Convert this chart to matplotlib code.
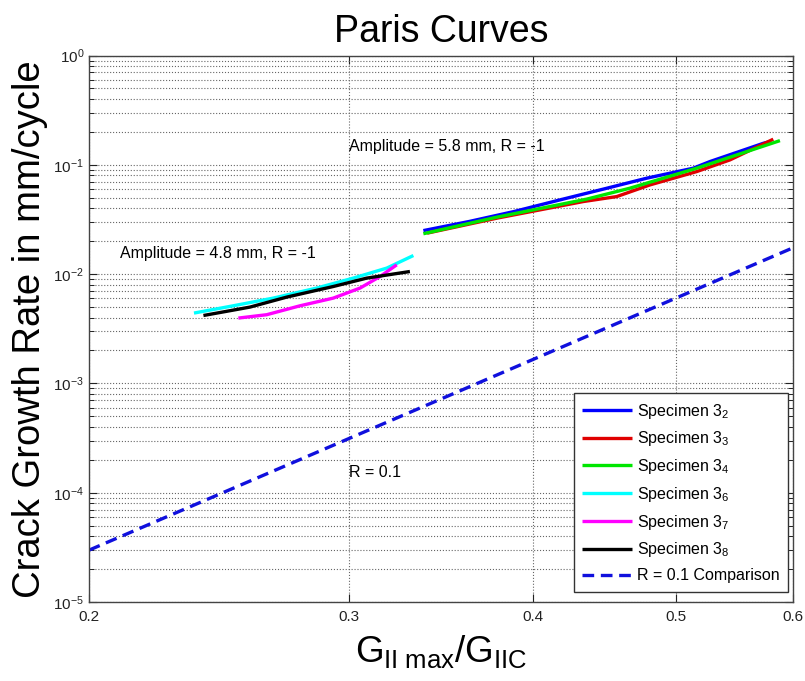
import matplotlib
matplotlib.use('Agg')
import matplotlib.pyplot as plt
from matplotlib.ticker import FixedLocator, FixedFormatter, NullLocator, LogLocator, LogFormatterSciNotation

plt.rcParams['font.family'] = ['Liberation Sans', 'DejaVu Sans']
plt.rcParams['mathtext.fontset'] = 'custom'
plt.rcParams['mathtext.rm'] = 'Liberation Sans'
plt.rcParams['mathtext.it'] = 'Liberation Sans:italic'
plt.rcParams['mathtext.bf'] = 'Liberation Sans:bold'

# ---- data ----
x_s2 = [0.337, 0.362, 0.388, 0.419, 0.446, 0.4775, 0.5135, 0.527, 0.573, 0.579]
y_s2 = [0.0250, 0.0303, 0.0373, 0.0485, 0.0598, 0.0754, 0.0931, 0.107, 0.1575, 0.163]

x_s3 = [0.339, 0.378, 0.4325, 0.4557, 0.480, 0.5163, 0.5438, 0.5818]
y_s3 = [0.0237, 0.0325, 0.0461, 0.0512, 0.0655, 0.0867, 0.1109, 0.1714]

x_s4 = [0.337, 0.378, 0.4348, 0.4652, 0.5163, 0.5879]
y_s4 = [0.0234, 0.0332, 0.0485, 0.0611, 0.0931, 0.1664]

x_s6 = [0.2356, 0.2505, 0.2666, 0.2853, 0.3021, 0.3183, 0.3318]
y_s6 = [0.0044, 0.00513, 0.00603, 0.00745, 0.00919, 0.01135, 0.01479]

x_s7 = [0.2525, 0.2639, 0.2780, 0.2928, 0.3053, 0.3150, 0.3233]
y_s7 = [0.00396, 0.00425, 0.00513, 0.00603, 0.00745, 0.00951, 0.01216]

x_s8 = [0.2391, 0.2571, 0.2723, 0.2928, 0.3085, 0.3300]
y_s8 = [0.00418, 0.00499, 0.00616, 0.0077, 0.00919, 0.01056]

x_cmp = [0.2, 0.6]
y_cmp = [2.98e-5, 0.0174]

labels = [r'Specimen 3$_{2}$', r'Specimen 3$_{3}$', r'Specimen 3$_{4}$',
          r'Specimen 3$_{6}$', r'Specimen 3$_{7}$', r'Specimen 3$_{8}$',
          'R = 0.1 Comparison']
x_ticks = [0.2, 0.3, 0.4, 0.5, 0.6]
x_ticklabels = ['0.2', '0.3', '0.4', '0.5', '0.6']

# ---- figure ----
fig = plt.figure(figsize=(8.05, 6.81), dpi=100)
ax = fig.add_axes([89/805, 79/681, 704/805, 546.5/681])
ax.set_xscale('log')
ax.set_yscale('log')

lw = 2.4
series = [(x_s2, y_s2, '#0000ff'), (x_s3, y_s3, '#e00000'), (x_s4, y_s4, '#00e600'),
          (x_s6, y_s6, '#00ffff'), (x_s7, y_s7, '#ff00ff'), (x_s8, y_s8, '#000000')]
for (xs, ys, c), lab in zip(series, labels[:6]):
    ax.plot(xs, ys, color=c, lw=lw, label=lab, solid_capstyle='butt')
ax.plot(x_cmp, y_cmp, color='#1010dd', lw=lw, ls=(0, (3.5, 2.0)), label=labels[6])

ax.set_xlim(0.2, 0.6)
ax.set_ylim(1e-5, 1)

ax.xaxis.set_major_locator(FixedLocator(x_ticks))
ax.xaxis.set_major_formatter(FixedFormatter(x_ticklabels))
ax.xaxis.set_minor_locator(NullLocator())
ax.yaxis.set_major_locator(LogLocator(base=10, numticks=10))
ax.yaxis.set_minor_locator(LogLocator(base=10, subs=range(2, 10), numticks=20))
ax.yaxis.set_major_formatter(LogFormatterSciNotation())

ax.tick_params(which='both', direction='in', top=True, right=True, labelsize=11, colors='#222222')
ax.tick_params(which='major', length=6, width=0.8)
ax.tick_params(which='minor', length=3.5, width=0.7)
ax.tick_params(axis='x', pad=6)

ax.grid(True, which='major', axis='both', ls=':', color='#666666', lw=0.8)
ax.grid(True, which='minor', axis='y', ls=':', color='#666666', lw=0.8)
ax.set_axisbelow(True)
for s in ax.spines.values():
    s.set_color('#444444')
    s.set_linewidth(1.0)

ax.set_title('Paris Curves', fontsize=27, pad=10)
ax.set_xlabel(r'$\mathregular{G_{II\ max}/G_{IIC}}$', fontsize=26.5, labelpad=6)
ax.set_ylabel('Crack Growth Rate in mm/cycle', fontsize=27.5, labelpad=4)

ax.text(0.3, 0.146, 'Amplitude = 5.8 mm, R = -1', fontsize=11.5, va='center', ha='left')
ax.text(0.2099, 0.01533, 'Amplitude = 4.8 mm, R = -1', fontsize=11.5, va='center', ha='left')
ax.text(0.3, 1.53e-4, 'R = 0.1', fontsize=11.5, va='center', ha='left')

leg = ax.legend(loc='lower right', bbox_to_anchor=(788/805, 1 - 592/681),
                bbox_transform=fig.transFigure, borderaxespad=0,
                fontsize=11.5, handlelength=3.1, handletextpad=0.3,
                labelspacing=0.55, borderpad=0.55, fancybox=False, framealpha=1)
leg.get_frame().set_edgecolor('#333333')
leg.get_frame().set_linewidth(1.0)

fig.savefig('out.png', dpi=100)
